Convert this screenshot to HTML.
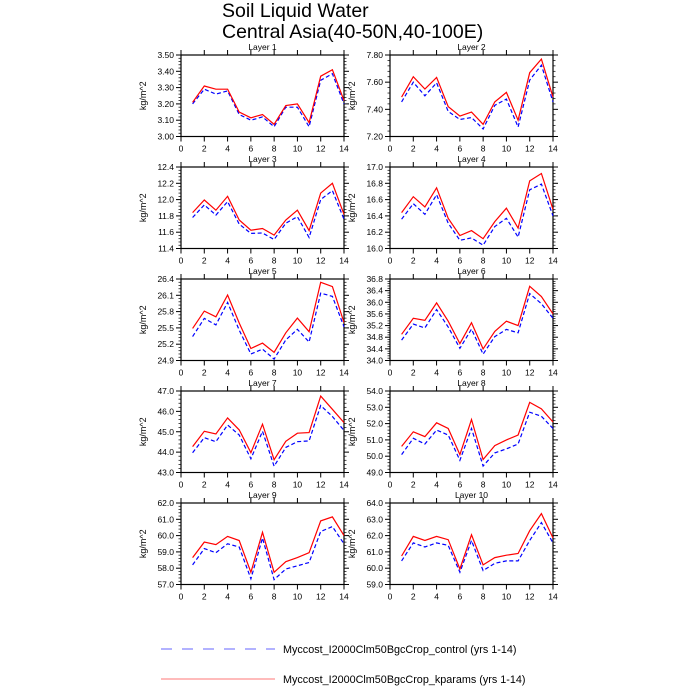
<!DOCTYPE html>
<html><head><meta charset="utf-8"><style>
html,body{margin:0;padding:0;background:#fff;}
svg{display:block;font-family:"Liberation Sans",sans-serif;}
</style></head><body>
<svg id="s" width="700" height="700" xmlns="http://www.w3.org/2000/svg">
<text x="222" y="17" font-size="19.5">Soil Liquid Water</text>
<text x="222" y="38" font-size="19.5">Central Asia(40-50N,40-100E)</text>
<line x1="161" y1="649" x2="275" y2="649" stroke="#6666ff" stroke-width="1" stroke-dasharray="11,10"/>
<text x="283" y="653" font-size="10.8">Myccost_I2000Clm50BgcCrop_control (yrs 1-14)</text>
<line x1="161" y1="679" x2="275" y2="679" stroke="#ff7777" stroke-width="1"/>
<text x="283" y="683" font-size="10.8">Myccost_I2000Clm50BgcCrop_kparams (yrs 1-14)</text>
<g id="g"></g>
</svg>
<script>
var P=[
{t:"Layer 1",lo:3.0,hi:3.5,st:0.1,d:2,
r:[3.21,3.31,3.29,3.29,3.15,3.115,3.135,3.075,3.19,3.20,3.085,3.37,3.41,3.22],
b:[3.20,3.29,3.26,3.28,3.135,3.10,3.12,3.06,3.18,3.18,3.06,3.345,3.385,3.20]},
{t:"Layer 2",lo:7.2,hi:7.8,st:0.2,d:2,
r:[7.49,7.64,7.55,7.635,7.42,7.35,7.38,7.29,7.455,7.525,7.32,7.67,7.77,7.49],
b:[7.455,7.60,7.50,7.595,7.385,7.325,7.34,7.255,7.43,7.475,7.27,7.615,7.725,7.455]},
{t:"Layer 3",lo:11.4,hi:12.4,st:0.2,d:1,
r:[11.84,11.995,11.87,12.04,11.75,11.625,11.645,11.565,11.75,11.87,11.62,12.08,12.2,11.82],
b:[11.78,11.935,11.81,11.975,11.70,11.585,11.59,11.51,11.71,11.79,11.535,12.0,12.11,11.76]},
{t:"Layer 4",lo:16.0,hi:17.0,st:0.2,d:1,
r:[16.44,16.635,16.51,16.745,16.37,16.16,16.22,16.12,16.33,16.495,16.25,16.83,16.92,16.48],
b:[16.36,16.55,16.42,16.66,16.31,16.10,16.13,16.04,16.27,16.37,16.14,16.72,16.79,16.40]},
{t:"Layer 5",lo:24.9,hi:26.4,st:0.3,d:1,
r:[25.49,25.81,25.705,26.105,25.59,25.12,25.22,25.05,25.41,25.68,25.43,26.34,26.26,25.6],
b:[25.34,25.675,25.555,25.97,25.46,25.02,25.11,24.925,25.28,25.475,25.24,26.14,26.08,25.52]},
{t:"Layer 6",lo:34.0,hi:36.8,st:0.4,d:1,
r:[34.9,35.45,35.38,35.98,35.35,34.58,35.3,34.4,35.0,35.35,35.2,36.55,36.2,35.6],
b:[34.7,35.25,35.12,35.75,35.15,34.42,35.08,34.22,34.82,35.07,34.95,36.3,35.95,35.45]},
{t:"Layer 7",lo:43,hi:47,st:1,d:1,
r:[44.27,45.02,44.89,45.68,45.09,43.97,45.37,43.63,44.53,44.93,44.96,46.75,46.1,45.45],
b:[43.97,44.71,44.51,45.33,44.84,43.67,45.02,43.31,44.23,44.51,44.55,46.29,45.75,45.06]},
{t:"Layer 8",lo:49,hi:54,st:1,d:1,
r:[50.6,51.5,51.2,52.05,51.7,50.1,52.25,49.8,50.65,51.0,51.3,53.3,52.9,52.1],
b:[50.1,51.1,50.75,51.6,51.3,49.75,51.7,49.4,50.2,50.45,50.75,52.7,52.45,51.7]},
{t:"Layer 9",lo:57,hi:62,st:1,d:1,
r:[58.65,59.6,59.45,59.95,59.7,57.75,60.2,57.75,58.4,58.65,58.95,60.9,61.15,60.0],
b:[58.2,59.2,58.95,59.5,59.3,57.35,59.85,57.3,57.95,58.15,58.35,60.25,60.55,59.5]},
{t:"Layer 10",lo:59,hi:64,st:1,d:1,
r:[60.75,61.95,61.7,61.95,61.75,59.95,62.05,60.2,60.65,60.8,60.9,62.3,63.35,61.85],
b:[60.45,61.55,61.3,61.55,61.4,59.75,61.7,59.85,60.3,60.45,60.45,61.7,62.8,61.55]}
];
var h="";
P.forEach(function(p,i){
 var L=i%2?390:181, W=163, T=55+112*Math.floor(i/2), H=81.5, B=T+H, R=L+W;
 var X=function(v){return L+v*W/14}, Y=function(v){return B-(v-p.lo)/(p.hi-p.lo)*H};
 h+='<text x="'+(L+W/2)+'" y="'+(T-5)+'" font-size="8.5" text-anchor="middle">'+p.t+'</text>';
 h+='<rect x="'+L+'" y="'+T+'" width="'+W+'" height="'+H+'" fill="none" stroke="#000" stroke-width="1.2"/>';
 for(var k=0;k<=14;k+=2){var x=X(k);
  h+='<line x1="'+x+'" y1="'+B+'" x2="'+x+'" y2="'+(B+5)+'" stroke="#000"/>';
  h+='<line x1="'+x+'" y1="'+T+'" x2="'+x+'" y2="'+(T-5)+'" stroke="#000"/>';
  h+='<text x="'+x+'" y="'+(B+15)+'" font-size="8.5" text-anchor="middle">'+k+'</text>';}
 var n=Math.round((p.hi-p.lo)/p.st);
 for(var j=0;j<=n;j++){var v=p.lo+j*p.st,y=Y(v);
  h+='<line x1="'+(L-5)+'" y1="'+y+'" x2="'+L+'" y2="'+y+'" stroke="#000"/>';
  h+='<line x1="'+R+'" y1="'+y+'" x2="'+(R+5)+'" y2="'+y+'" stroke="#000"/>';
  h+='<text x="'+(L-7)+'" y="'+(y+3)+'" font-size="8.5" text-anchor="end">'+v.toFixed(p.d)+'</text>';
  if(j<n)for(var m=1;m<5;m++){var ym=Y(v+m*p.st/5);
   h+='<line x1="'+(L-2.5)+'" y1="'+ym+'" x2="'+L+'" y2="'+ym+'" stroke="#000" stroke-width="0.7"/>';
   h+='<line x1="'+R+'" y1="'+ym+'" x2="'+(R+2.5)+'" y2="'+ym+'" stroke="#000" stroke-width="0.7"/>';}}
 var yl=(L-35), yc=T+H/2;
 h+='<text x="'+yl+'" y="'+yc+'" font-size="9" text-anchor="middle" transform="rotate(-90 '+yl+' '+yc+')">kg/m^2</text>';
 var pts=function(a){return a.map(function(v,k){return X(k+1).toFixed(1)+','+Y(v).toFixed(1)}).join(' ')};
 h+='<polyline points="'+pts(p.b)+'" fill="none" stroke="#0000ff" stroke-width="1.2" stroke-dasharray="4,2.5"/>';
 h+='<polyline points="'+pts(p.r)+'" fill="none" stroke="#ff0000" stroke-width="1.2"/>';
});
document.getElementById("g").innerHTML=h;
</script>
</body></html>
